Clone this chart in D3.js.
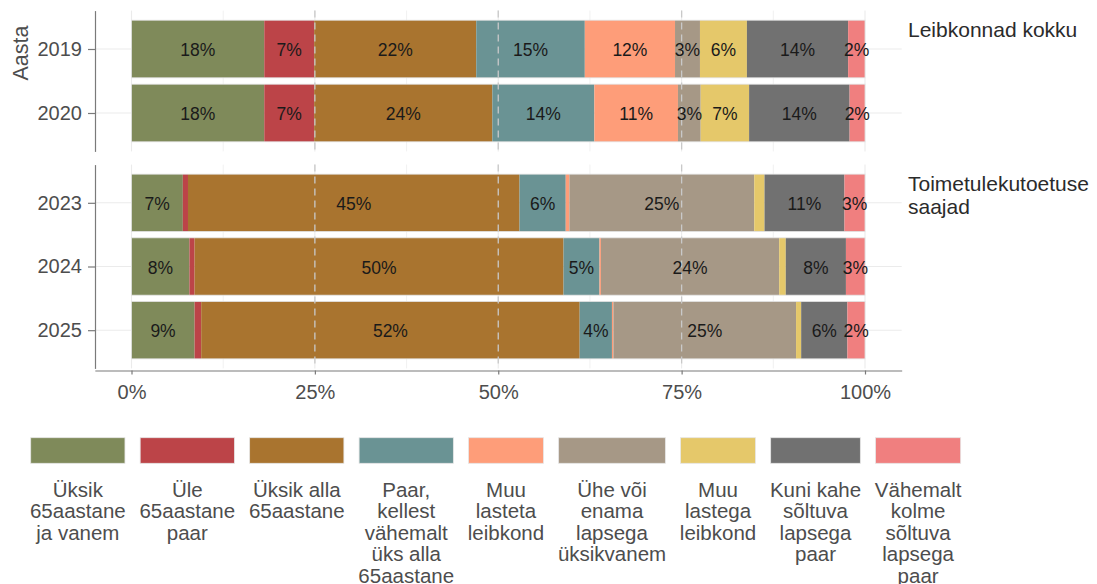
<!DOCTYPE html>
<html>
<head>
<meta charset="utf-8">
<script src="https://cdn.jsdelivr.net/npm/d3@7"></script>
<style>
  body { margin: 0; background: #fff; }
  svg { display: block; font-family: "Liberation Sans", Arial, sans-serif; }
</style>
</head>
<body>
<svg id="chart" width="1097" height="584"></svg>
<script>
// categories (stack order, left to right)
var categories = [
  "Üksik 65aastane ja vanem",
  "Üle 65aastane paar",
  "Üksik alla 65aastane",
  "Paar, kellest vähemalt üks alla 65aastane",
  "Muu lasteta leibkond",
  "Ühe või enama lapsega üksikvanem",
  "Muu lastega leibkond",
  "Kuni kahe sõltuva lapsega paar",
  "Vähemalt kolme sõltuva lapsega paar"
]
// how the legend breaks each label
var legendLabels = [
  "Üksik\n65aastane\nja vanem",
  "Üle\n65aastane\npaar",
  "Üksik alla\n65aastane",
  "Paar,\nkellest\nvähemalt\nüks alla\n65aastane",
  "Muu\nlasteta\nleibkond",
  "Ühe või\nenama\nlapsega\nüksikvanem",
  "Muu\nlastega\nleibkond",
  "Kuni kahe\nsõltuva\nlapsega\npaar",
  "Vähemalt\nkolme\nsõltuva\nlapsega\npaar"
]
var colors = ["#7f8a5a", "#bc4448", "#a9742f", "#6a9394", "#fe9d79",
              "#a69886", "#e5c86a", "#717171", "#f07f7f"]

var groups = ["Leibkonnad kokku", "Toimetulekutoetuse\nsaajad"]
var yearsTotal = ["2019", "2020"]
var yearsAid = ["2023", "2024", "2025"]

// shares in %, same order as categories
var shares2019 = [18.1, 6.8, 22.1, 14.8, 12.3, 3.4, 6.4, 13.8, 2.3]
var shares2020 = [18.1, 6.8, 24.3, 13.9, 11.4, 3.1, 6.6, 13.7, 2.1]
var shares2023 = [7.0, 0.7, 45.2, 6.3, 0.5, 25.2, 1.4, 10.9, 2.8]
var shares2024 = [7.9, 0.7, 50.3, 4.9, 0.2, 24.3, 0.9, 8.2, 2.6]
var shares2025 = [8.6, 0.9, 51.6, 4.4, 0.2, 24.9, 0.7, 6.3, 2.4]

var xTicks = [0, 25, 50, 75, 100]
var yTitle = "Aasta"

var panels = [
  { label: groups[0], years: yearsTotal, rows: [shares2019, shares2020], top: 10.6, bottom: 151.4 },
  { label: groups[1], years: yearsAid, rows: [shares2023, shares2024, shares2025], top: 164.6, bottom: 368.4 }
]

var svg = d3.select("#chart")
var left = 95

var x = d3.scaleLinear().domain([0, 100]).range([131.5, 865])
var xFull = x.copy().domain([-5, 105]).range([x(-5), x(105)])
var right = x(105)

var color = d3.scaleOrdinal().domain(categories).range(colors)
var stack = d3.stack().keys(d3.range(categories.length))

panels.forEach(function(p) {
  var y = d3.scalePoint().domain(p.years).range([p.top, p.bottom]).padding(0.6)
  var bh = y.step() * 0.9
  var g = svg.append("g")

  // grid
  g.selectAll(".vgrid").data(d3.range(0, 100.1, 12.5)).enter().append("line")
    .attr("x1", d => x(d)).attr("x2", d => x(d))
    .attr("y1", p.top).attr("y2", p.bottom)
    .attr("stroke", "#ebebeb").attr("stroke-width", d => d % 25 == 0 ? 1.1 : 0.7)
  g.selectAll(".hgrid").data(p.years).enter().append("line")
    .attr("x1", left).attr("x2", right)
    .attr("y1", d => y(d)).attr("y2", d => y(d))
    .attr("stroke", "#ebebeb").attr("stroke-width", 1.1)

  var rows = p.rows.map(function(r, i) {
    var o = { year: p.years[i] }
    r.forEach(function(v, j) { o[j] = v })
    return o
  })
  var series = stack(rows)

  series.forEach(function(s) {
    g.selectAll(null).data(s).enter().append("rect")
      .attr("x", d => x(d[0]))
      .attr("width", d => x(d[1]) - x(d[0]))
      .attr("y", d => y(d.data.year) - bh / 2)
      .attr("height", bh)
      .attr("fill", color(categories[s.key]))
  })

  // outline of whole bars
  g.selectAll(".outline").data(p.years).enter().append("rect")
    .attr("x", x(0)).attr("width", x(100) - x(0))
    .attr("y", d => y(d) - bh / 2).attr("height", bh)
    .attr("fill", "none").attr("stroke", "#e2e2e2").attr("stroke-width", 0.8)

  // dashed reference lines
  g.selectAll(".dash").data([25, 50, 75]).enter().append("line")
    .attr("x1", d => x(d)).attr("x2", d => x(d))
    .attr("y1", p.top).attr("y2", p.bottom)
    .attr("stroke", "#c9c9c9").attr("stroke-width", 1.3)
    .attr("stroke-dasharray", "7,5")

  // value labels
  series.forEach(function(s) {
    g.selectAll(null).data(s.filter(d => d[1] - d[0] >= 1.5)).enter().append("text")
      .attr("x", d => (x(d[0]) + x(d[1])) / 2)
      .attr("y", d => y(d.data.year) + 1)
      .attr("dy", "0.35em")
      .attr("text-anchor", "middle")
      .style("font-size", "17.5px")
      .attr("fill", "#1a1a1a")
      .text(d => Math.round(d[1] - d[0]) + "%")
  })

  // y axis
  var ax = g.append("g").attr("transform", "translate(" + left + ",0)")
    .call(d3.axisLeft(y).tickSize(7).tickSizeOuter(0).tickPadding(6))
  ax.select(".domain").attr("stroke", "#7a7a7a").attr("stroke-width", 1.2)
  ax.selectAll(".tick line").attr("stroke", "#7a7a7a").attr("stroke-width", 1.2)
  ax.selectAll(".tick text").attr("fill", "#4d4d4d").style("font-size", "20px")
    .style("font-family", "Liberation Sans, Arial, sans-serif")

  // strip label
  var st = g.append("text").attr("x", 908).attr("y", p.top + 26.4)
    .style("font-size", "21px").attr("fill", "#2b2b2b")
  p.label.split("\n").forEach(function(t, i) {
    st.append("tspan").attr("x", 908).attr("dy", i == 0 ? 0 : 22.5).text(t)
  })
})

// x axis
var xa = svg.append("g").attr("transform", "translate(0," + 370.5 + ")")
  .call(d3.axisBottom(xFull).tickValues(xTicks).tickFormat(d => d + "%")
    .tickSize(4).tickSizeOuter(0).tickPadding(10))
xa.select(".domain").attr("stroke", "#7a7a7a").attr("stroke-width", 1.2)
xa.selectAll(".tick line").attr("stroke", "#7a7a7a").attr("stroke-width", 1.2)
xa.selectAll(".tick text").attr("fill", "#4d4d4d").style("font-size", "20px")
  .style("font-family", "Liberation Sans, Arial, sans-serif")

// y title
svg.append("text")
  .attr("transform", "translate(28,53) rotate(-90)")
  .attr("text-anchor", "middle")
  .style("font-size", "21.5px")
  .attr("fill", "#4d4d4d")
  .text(yTitle)

// legend
var legend = svg.append("g")
var lx = 30.7
categories.forEach(function(c, i) {
  var lg = legend.append("g")
  var txt = lg.append("text").attr("text-anchor", "middle")
    .style("font-size", "20.5px").attr("fill", "#4d4d4d")
  var lines = legendLabels[i].split("\n")
  lines.forEach(function(t, k) {
    txt.append("tspan").attr("x", 0).attr("y", 496.7 + k * 21.5).text(t)
  })
  var w = d3.max(txt.selectAll("tspan").nodes(), n => n.getComputedTextLength())
  w = Math.max(w - 1.5, 70)
  lg.append("rect").attr("x", -w / 2).attr("y", 437.7).attr("width", w).attr("height", 25.6)
    .attr("fill", color(c)).attr("stroke", "#e6e6e6").attr("stroke-width", 0.8)
  lg.attr("transform", "translate(" + (lx + w / 2) + ",0)")
  lx += w + 15.2
})
</script>
</body>
</html>
